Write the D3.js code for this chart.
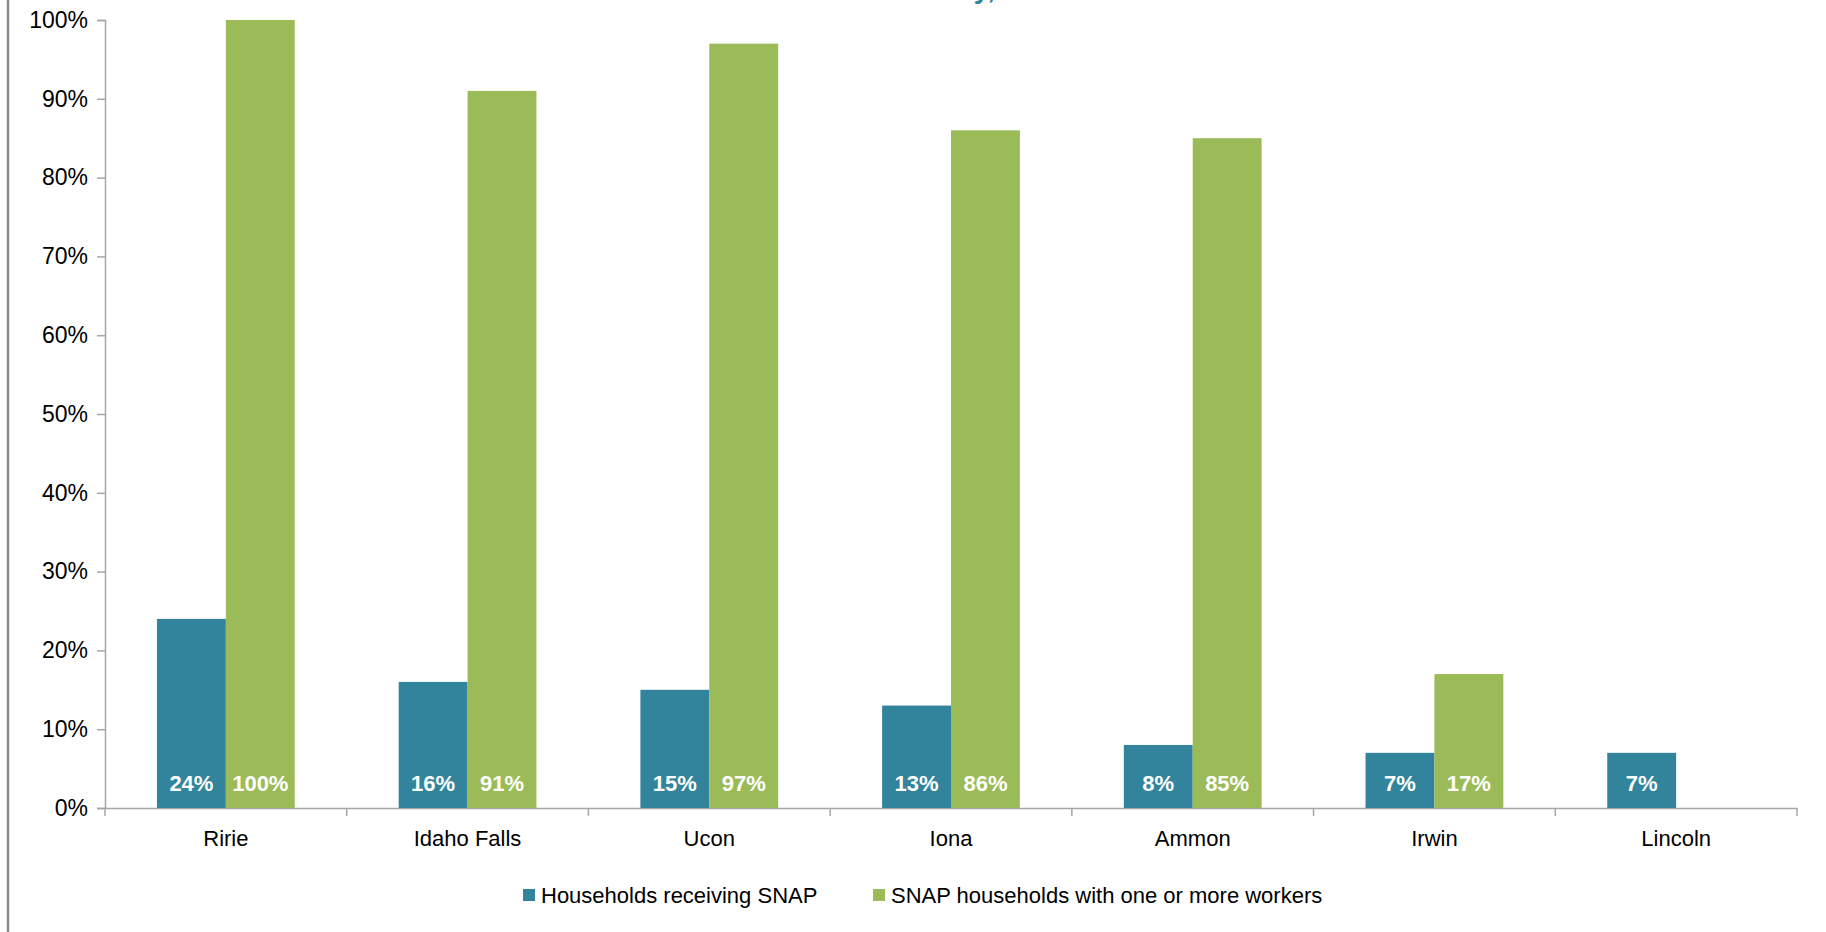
<!DOCTYPE html>
<html>
<head>
<meta charset="utf-8">
<script src="https://cdn.jsdelivr.net/npm/d3@7"></script>
<style>
  body { margin: 0; background: #fff; }
  svg { display: block; font-family: "Liberation Sans", Arial, sans-serif; }
</style>
</head>
<body>
<div id="chart"></div>
<script>
'use strict';

const towns = ["Ririe", "Idaho Falls", "Ucon", "Iona", "Ammon", "Irwin", "Lincoln"];
const snapHouseholds = [24, 16, 15, 13, 8, 7, 7];
const snapWithWorkers = [100, 91, 97, 86, 85, 17, null];
const seriesNames = ["Households receiving SNAP", "SNAP households with one or more workers"];
const seriesColors = ["#31849b", "#9bbb59"];
const yTicks = [0, 10, 20, 30, 40, 50, 60, 70, 80, 90, 100];

const width = 1826;
const height = 932;

const svg = d3.select("#chart")
  .append("svg")
  .attr("width", width)
  .attr("height", height);

// frame line on the left edge
svg.append("line")
  .attr("x1", 8).attr("x2", 8)
  .attr("y1", 0).attr("y2", height)
  .attr("stroke", "#8c8c8c")
  .attr("stroke-width", 2.5);

// title, mostly cut off at the top edge (only the descenders show)
svg.append("text")
  .attr("x", 995)
  .attr("y", -2)
  .attr("text-anchor", "end")
  .attr("fill", "#31849b")
  .attr("font-size", 28)
  .attr("font-weight", "bold")
  .text("County,");

const x = d3.scaleBand()
  .domain(towns)
  .range([105, 1797])
  .paddingInner(0.43)
  .paddingOuter(0.215);

const xInner = d3.scaleBand()
  .domain([0, 1])
  .range([0, x.bandwidth()]);

const y = d3.scaleLinear()
  .domain([0, 100])
  .range([808, 20]);

// y axis
const yAxis = d3.axisLeft(y)
  .tickValues(yTicks)
  .tickSize(8)
  .tickPadding(9)
  .tickFormat(d => d + "%");

const $yAxis = svg.append("g")
  .attr("transform", "translate(105,0)")
  .call(yAxis);
$yAxis.select(".domain").attr("stroke", "#a6a6a6").attr("stroke-width", 1.5);
$yAxis.selectAll(".tick line").attr("stroke", "#a6a6a6").attr("stroke-width", 1.5);
$yAxis.selectAll(".tick text")
  .attr("font-size", 23)
  .attr("font-family", "Liberation Sans, Arial, sans-serif")
  .attr("fill", "#000");

// x axis: labels from the band scale, ticks on category boundaries
const xAxis = d3.axisBottom(x).tickSize(0).tickPadding(22);
const $xAxis = svg.append("g")
  .attr("transform", `translate(0,${y(0)})`)
  .call(xAxis);
$xAxis.select(".domain").attr("stroke", "#a6a6a6").attr("stroke-width", 1.5);
$xAxis.selectAll(".tick text")
  .attr("font-size", 22)
  .attr("font-family", "Liberation Sans, Arial, sans-serif")
  .attr("fill", "#000");

const step = x.step();
const bounds = towns.map(t => x(t) - step * x.paddingInner() / 2);
bounds.push(bounds[bounds.length - 1] + step);
svg.append("g")
  .selectAll("line")
  .data(bounds)
  .enter()
  .append("line")
  .attr("x1", d => d).attr("x2", d => d)
  .attr("y1", y(0)).attr("y2", y(0) + 8)
  .attr("stroke", "#a6a6a6")
  .attr("stroke-width", 1.5);

// bars
const rows = [];
towns.forEach((t, i) => {
  [snapHouseholds[i], snapWithWorkers[i]].forEach((v, s) => {
    if (v !== null) rows.push({ town: t, series: s, value: v });
  });
});

const group = svg.append("g")
  .selectAll("g")
  .data(rows)
  .enter()
  .append("g");

group.append("rect")
  .attr("x", d => x(d.town) + xInner(d.series))
  .attr("y", d => y(d.value))
  .attr("width", xInner.bandwidth())
  .attr("height", d => y(0) - y(d.value))
  .attr("fill", d => seriesColors[d.series]);

group.append("text")
  .attr("x", d => x(d.town) + xInner(d.series) + xInner.bandwidth() / 2)
  .attr("y", y(0) - 17)
  .attr("text-anchor", "middle")
  .attr("fill", "#fff")
  .attr("font-size", 22)
  .attr("font-weight", "bold")
  .text(d => d.value + "%");

// legend
const legendX = [523, 873];
const legend = svg.append("g")
  .selectAll("g")
  .data(seriesNames)
  .enter()
  .append("g")
  .attr("transform", (d, i) => `translate(${legendX[i]},895)`);

legend.append("rect")
  .attr("x", 0).attr("y", -6)
  .attr("width", 12).attr("height", 12)
  .attr("fill", (d, i) => seriesColors[i]);

legend.append("text")
  .attr("x", 18)
  .attr("y", 8)
  .attr("font-size", 22)
  .attr("fill", "#000")
  .text(d => d);
</script>
</body>
</html>
